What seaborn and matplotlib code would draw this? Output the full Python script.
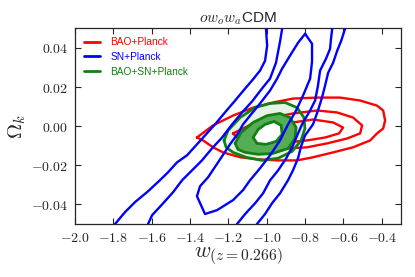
import matplotlib
matplotlib.use("Agg")
import matplotlib.pyplot as plt
import seaborn as sns
from matplotlib.ticker import FuncFormatter, MultipleLocator

# contour outlines: (w, Omega_k)
# SN+Planck (blue) - outer and middle levels are open (leave the frame)
sn_out_left_w = [-1.85, -1.791, -1.739, -1.687, -1.624, -1.557, -1.515, -1.468, -1.416, -1.364, -1.317,
                 -1.270, -1.218, -1.165, -1.113, -1.077, -1.035, -1.009, -0.998, -1.004, -1.006]
sn_out_left_ok = [-0.055, -0.0500, -0.0439, -0.0388, -0.0337, -0.0276, -0.0236, -0.0185, -0.0149, -0.0093, -0.0042,
                  0.0009, 0.0070, 0.0131, 0.0192, 0.0233, 0.0284, 0.0334, 0.0411, 0.0497, 0.055]
sn_mid_left_w = [-1.64, -1.619, -1.598, -1.546, -1.489, -1.442, -1.390, -1.338, -1.286, -1.233, -1.181,
                 -1.129, -1.077, -1.025, -0.983, -0.952, -0.931, -0.920, -0.915]
sn_mid_left_ok = [-0.055, -0.0500, -0.0455, -0.0400, -0.0338, -0.0277, -0.0226, -0.0175, -0.0114, -0.0058, 0.0009,
                  0.0070, 0.0126, 0.0192, 0.0243, 0.0324, 0.0431, 0.0497, 0.055]
sn_mid_right_w = [-1.18, -1.155, -1.113, -1.061, -1.019, -0.983, -0.941, -0.899, -0.863, -0.837, -0.816,
                  -0.774, -0.748, -0.733, -0.722, -0.691, -0.670, -0.665, -0.659, -0.656]
sn_mid_right_ok = [-0.055, -0.0500, -0.0449, -0.0394, -0.0343, -0.0277, -0.0226, -0.0165, -0.0098, -0.0037, 0.0009,
                   0.0080, 0.0131, 0.0207, 0.0284, 0.0345, 0.0395, 0.0446, 0.0497, 0.055]
sn_out_right_w = [-1.075, -1.051, -1.009, -0.972, -0.931, -0.889, -0.863, -0.837, -0.821, -0.800, -0.759,
                  -0.733, -0.712, -0.696, -0.680, -0.654, -0.633, -0.612, -0.592, -0.58]
sn_out_right_ok = [-0.055, -0.0500, -0.0449, -0.0393, -0.0343, -0.0276, -0.0225, -0.0164, -0.0103, -0.0047, 0.0009,
                   0.0080, 0.0146, 0.0207, 0.0273, 0.0324, 0.0385, 0.0436, 0.0497, 0.055]
sn_in_w = [-0.800, -0.837, -0.879, -0.920, -0.946, -0.983, -1.035, -1.087, -1.124, -1.150, -1.192, -1.254,
           -1.306, -1.348, -1.364, -1.322, -1.259, -1.176, -1.124, -1.087, -1.035, -0.983, -0.931, -0.889,
           -0.847, -0.811, -0.774, -0.764, -0.764, -0.800]
sn_in_ok = [0.0472, 0.0426, 0.0360, 0.0294, 0.0243, 0.0182, 0.0116, 0.0054, 0.0009, -0.0037, -0.0093, -0.0185,
            -0.0261, -0.0307, -0.0358, -0.0449, -0.0429, -0.0378, -0.0327, -0.0276, -0.0215, -0.0149, -0.0073, 0.0009,
            0.0080, 0.0156, 0.0243, 0.0329, 0.0421, 0.0472]

# BAO+Planck (red)
bao_out_w = [-1.364, -1.280, -1.176, -1.071, -0.967, -0.863, -0.738, -0.618, -0.513, -0.425, -0.393, -0.383,
             -0.393, -0.425, -0.461, -0.550, -0.654, -0.759, -0.842, -0.946, -1.051, -1.139, -1.228, -1.280,
             -1.332, -1.364]
bao_out_ok = [-0.0058, 0.0004, 0.0054, 0.0095, 0.0121, 0.0141, 0.0146, 0.0146, 0.0131, 0.0105, 0.0080, 0.0029,
              -0.0012, -0.0037, -0.0073, -0.0108, -0.0134, -0.0159, -0.0175, -0.0175, -0.0169, -0.0159, -0.0134, -0.0108,
              -0.0073, -0.0058]
bao_mid_w = [-1.176, -1.071, -0.967, -0.863, -0.738, -0.633, -0.550, -0.503, -0.513, -0.581, -0.685, -0.790,
             -0.894, -0.998, -1.087, -1.155, -1.176]
bao_mid_ok = [-0.0037, 0.0014, 0.0044, 0.0065, 0.0080, 0.0070, 0.0044, 0.0004, -0.0037, -0.0063, -0.0088, -0.0108,
              -0.0114, -0.0108, -0.0083, -0.0058, -0.0037]
bao_in_w = [-1.025, -0.967, -0.863, -0.759, -0.654, -0.602, -0.623, -0.696, -0.790, -0.894, -0.972, -1.025]
bao_in_ok = [-0.0042, -0.0012, 0.0019, 0.0034, 0.0019, -0.0007, -0.0037, -0.0058, -0.0073, -0.0083, -0.0073, -0.0042]

# BAO+SN+Planck (green)
all_out_w = [-1.223, -1.202, -1.139, -1.061, -0.983, -0.905, -0.842, -0.806, -0.801, -0.821, -0.868, -0.941,
             -1.025, -1.108, -1.176, -1.212, -1.223]
all_out_ok = [-0.0073, -0.0022, 0.0044, 0.0095, 0.0116, 0.0121, 0.0095, 0.0044, -0.0012, -0.0073, -0.0129, -0.0164,
              -0.0175, -0.0159, -0.0134, -0.0108, -0.0073]
all_mid_w = [-1.165, -1.134, -1.071, -0.998, -0.931, -0.879, -0.847, -0.853, -0.889, -0.967, -1.045, -1.113,
             -1.150, -1.165]
all_mid_ok = [-0.0088, -0.0032, 0.0019, 0.0054, 0.0065, 0.0044, -0.0007, -0.0063, -0.0114, -0.0139, -0.0144, -0.0134,
              -0.0119, -0.0088]
all_in_w = [-1.071, -1.045, -1.009, -0.962, -0.925, -0.920, -0.951, -1.004, -1.051, -1.071]
all_in_ok = [-0.0058, -0.0017, 0.0009, 0.0024, 0.0004, -0.0042, -0.0078, -0.0093, -0.0088, -0.0058]

labels = ["BAO+Planck", "SN+Planck", "BAO+SN+Planck"]
colors = ["#ff0000", "#0000ff", "#128012"]

sns.set_style("ticks", {"xtick.direction": "in", "ytick.direction": "in",
                        "xtick.top": True, "ytick.right": True})
plt.rcParams["font.family"] = ["Liberation Sans", "DejaVu Sans"]
plt.rcParams["mathtext.fontset"] = "cm"

fig = plt.figure(figsize=(4.15, 2.77), dpi=100)
ax = fig.add_axes([0.1807, 0.1913, 0.7856, 0.7065])

lw = 1.7
# green filled regions
ax.fill(all_out_w, all_out_ok, color="#e6f3e6", zorder=1, lw=0)
ax.fill(all_mid_w, all_mid_ok, color="#55ad55", zorder=3, lw=0)
ax.fill(all_in_w, all_in_ok, color="white", zorder=3, lw=0)

# red
for i, (xs, ys) in enumerate([(bao_in_w, bao_in_ok), (bao_mid_w, bao_mid_ok), (bao_out_w, bao_out_ok)]):
    sns.lineplot(x=xs, y=ys, sort=False, estimator=None, color=colors[0], lw=lw, ax=ax,
                 label=labels[0] if i == 0 else None, zorder=2)

# green lines
for i, (xs, ys) in enumerate([(all_mid_w, all_mid_ok), (all_out_w, all_out_ok), (all_in_w, all_in_ok)]):
    sns.lineplot(x=xs, y=ys, sort=False, estimator=None, color=colors[2], lw=lw + 0.3, ax=ax,
                 label=labels[2] if i == 0 else None, zorder=4)

# blue
blue = [(sn_in_w, sn_in_ok), (sn_mid_left_w, sn_mid_left_ok), (sn_mid_right_w, sn_mid_right_ok),
        (sn_out_left_w, sn_out_left_ok), (sn_out_right_w, sn_out_right_ok)]
for i, (xs, ys) in enumerate(blue):
    sns.lineplot(x=xs, y=ys, sort=False, estimator=None, color=colors[1], lw=lw, ax=ax,
                 label=labels[1] if i == 0 else None, zorder=5)

ax.set_xlim(-2.0, -0.3)
ax.set_ylim(-0.05, 0.05)
ax.xaxis.set_major_locator(MultipleLocator(0.2))
ax.yaxis.set_major_locator(MultipleLocator(0.02))
ax.xaxis.set_major_formatter(FuncFormatter(lambda v, _: f"${v + 0:.1f}$"))
ax.yaxis.set_major_formatter(FuncFormatter(lambda v, _: f"${v + 0:.2f}$"))
ax.tick_params(labelsize=10, length=4, width=0.8, pad=5)
for s in ax.spines.values():
    s.set_linewidth(0.9)

ax.set_xlabel(r"$w_{(z=0.266)}$", fontsize=16, labelpad=0)
ax.set_ylabel(r"$\Omega_k$", fontsize=15, labelpad=2)
ax.set_title(r"$ow_ow_a$CDM", fontsize=11, pad=4)

handles, labs = ax.get_legend_handles_labels()
order = [labs.index(l) for l in labels]
leg = ax.legend([handles[i] for i in order], labels, loc="upper left", frameon=False,
                fontsize=7.3, handlelength=1.6, handletextpad=1.0, labelspacing=0.45,
                borderaxespad=0.5)
for t, c in zip(leg.get_texts(), colors):
    t.set_color(c)
for h in leg.legend_handles:
    h.set_linewidth(2)

fig.savefig("out.png", dpi=100)
